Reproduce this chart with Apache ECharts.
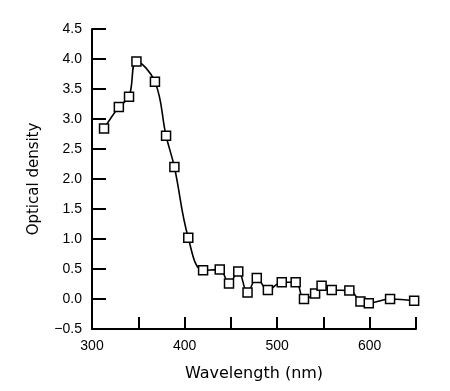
<!DOCTYPE html>
<html>
<head>
<meta charset="utf-8">
<script src="https://cdn.jsdelivr.net/npm/echarts@6/dist/echarts.min.js"></script>
<style>html,body{margin:0;padding:0;background:#fff;}#c{width:450px;height:391px;}</style>
</head>
<body>
<div id="c"></div>
<script>
var wavelengths = [313, 329, 340, 348, 368, 380, 389, 404, 420, 438, 448, 458, 468, 478, 490, 505, 520, 529, 541, 548, 559, 578, 590, 599, 622, 648];
var opticalDensity = [2.84, 3.20, 3.37, 3.96, 3.62, 2.72, 2.20, 1.02, 0.48, 0.49, 0.26, 0.46, 0.11, 0.35, 0.15, 0.28, 0.28, 0.00, 0.09, 0.22, 0.15, 0.14, -0.04, -0.07, 0.00, -0.03];
var xTicks = [300, 400, 500, 600];
var yTicks = [-0.5, 0.0, 0.5, 1.0, 1.5, 2.0, 2.5, 3.0, 3.5, 4.0, 4.5];

var data = wavelengths.map(function (w, i) { return [w, opticalDensity[i]]; });
var font = 'Liberation Sans, Arial, sans-serif';
var nameFont = 'DejaVu Sans, sans-serif';
var chart = echarts.init(document.getElementById('c'), null, {renderer: 'canvas'});
chart.setOption({
  animation: false,
  backgroundColor: '#fff',
  grid: {left: 92, top: 29, right: 34, bottom: 62, containLabel: false},
  xAxis: {
    type: 'value', min: 300, max: 650, interval: 50,
    name: 'Wavelength (nm)', nameLocation: 'middle', nameGap: 37,
    nameTextStyle: {fontFamily: nameFont, fontSize: 16, color: '#000'},
    axisLine: {show: true, onZero: false, lineStyle: {color: '#000', width: 2}},
    axisTick: {show: true, inside: true, length: 12, lineStyle: {color: '#000', width: 2}},
    axisLabel: {
      fontFamily: font, fontSize: 14, color: '#000', margin: 10,
      formatter: function (v) { return xTicks.indexOf(v) >= 0 ? String(v) : ''; }
    },
    splitLine: {show: false}
  },
  yAxis: {
    type: 'value', min: -0.5, max: 4.5, interval: 0.5,
    name: 'Optical density', nameLocation: 'middle', nameGap: 50,
    nameTextStyle: {fontFamily: nameFont, fontSize: 15, color: '#000'},
    axisLine: {show: true, onZero: false, lineStyle: {color: '#000', width: 2}},
    axisTick: {show: true, inside: true, length: 14, lineStyle: {color: '#000', width: 2}},
    axisLabel: {
      fontFamily: font, fontSize: 14, color: '#000', margin: 10,
      formatter: function (v) {
        var t = yTicks.find(function (y) { return Math.abs(y - v) < 1e-9; });
        if (t === undefined) return '';
        var s = t.toFixed(1);
        return s.charAt(0) === '-' ? '\u2212' + s.slice(1) : s;
      }
    },
    splitLine: {show: false}
  },
  series: [{
    type: 'line',
    data: data,
    smooth: 0.4,
    symbol: 'rect',
    symbolSize: 9,
    lineStyle: {color: '#000', width: 1.6},
    itemStyle: {color: '#fff', borderColor: '#000', borderWidth: 1.5}
  }]
});
</script>
</body>
</html>
